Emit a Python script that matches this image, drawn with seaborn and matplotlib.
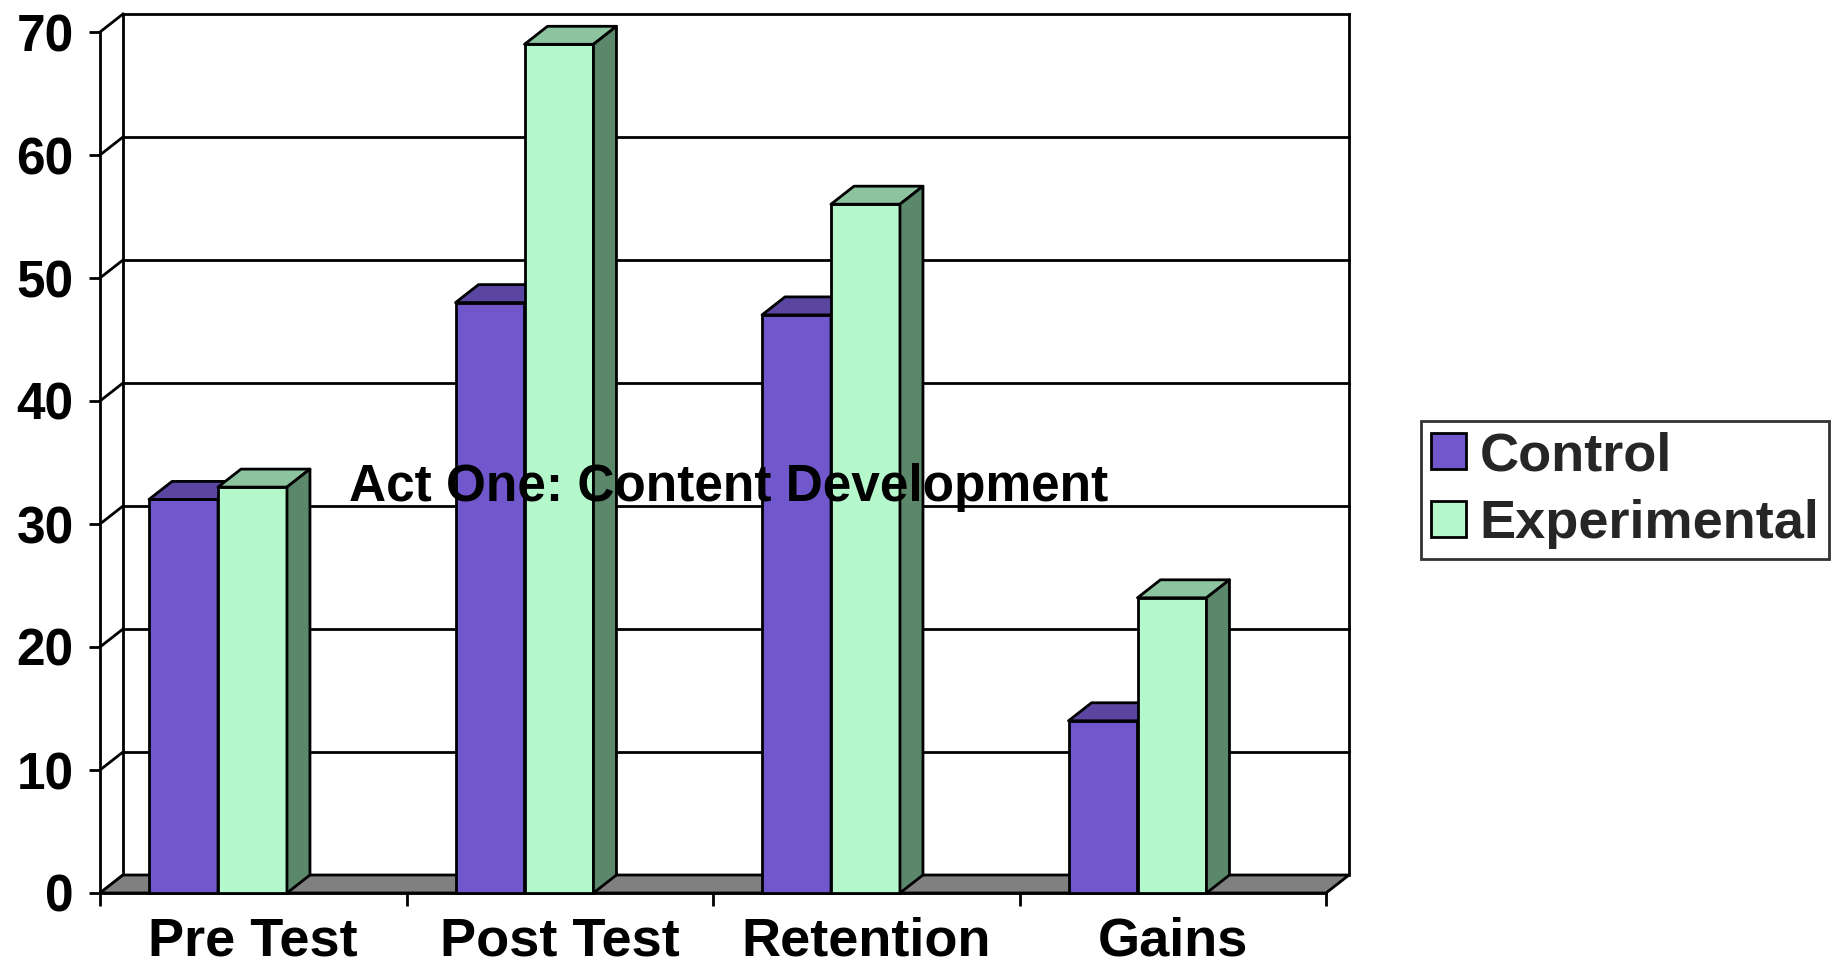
import numpy as np
import pandas as pd
import matplotlib
matplotlib.use("Agg")
import matplotlib.pyplot as plt
from matplotlib.patches import Polygon, Patch
import seaborn as sns

# ---- data -------------------------------------------------------------
categories = ["Pre Test", "Post Test", "Retention", "Gains"]
groups = ["Control", "Experimental"]
control = [32, 48, 47, 14]
experimental = [33, 69, 56, 24]
y_ticks = [0, 10, 20, 30, 40, 50, 60, 70]
title_text = "Act One: Content Development"

# ---- styling ----------------------------------------------------------
front_colors = {"Control": "#7157CC", "Experimental": "#B5F8CC"}
top_colors = {"Control": "#5A46A0", "Experimental": "#8DC4A0"}
side_colors = {"Control": "#4A3A8A", "Experimental": "#5B876A"}
floor_color = "#808080"
LW = 2.0
FS = 37
FS_X = 39
FS_LEG = 39

df = pd.DataFrame({
    "Test": categories * 2,
    "Group": [groups[0]] * len(categories) + [groups[1]] * len(categories),
    "Score": control + experimental,
})

sns.set_theme(style="white")
plt.rcParams["font.family"] = ["Liberation Sans", "DejaVu Sans"]
plt.rcParams["font.weight"] = "bold"

W, H = 1848, 967
fig = plt.figure(figsize=(W / 100, H / 100), dpi=100)
fig.patch.set_facecolor("white")
# axes = front plane of the 3-D box
ax = fig.add_axes([100 / W, 74 / H, 1226 / W, 861 / H])
ax.set_facecolor("none")

sns.barplot(data=df, x="Test", y="Score", hue="Group", order=categories,
            hue_order=groups, palette=front_colors, width=0.45, saturation=1,
            edgecolor="black", linewidth=LW, legend=False, ax=ax)

ax.set_xlim(-0.5, len(categories) - 0.5)
ax.set_ylim(y_ticks[0], y_ticks[-1])

# depth offset of the box in pixels converted to data units
depth_px = np.array([23.0, 18.0])
dx, dy = ax.transData.inverted().transform(ax.transData.transform((0, 0)) + depth_px)

x_lo, x_hi = -0.5, len(categories) - 0.5
y_top = y_ticks[-1]
line_kw = dict(color="black", lw=LW, clip_on=False, solid_capstyle="projecting")

# back wall: gridlines, side edges and the slanted left-wall connectors
for v in y_ticks[1:]:
    ax.plot([x_lo + dx, x_hi + dx], [v + dy, v + dy], zorder=1, **line_kw)
for v in y_ticks:
    ax.plot([x_lo, x_lo + dx], [v, v + dy], zorder=1, **line_kw)
ax.plot([x_lo + dx, x_lo + dx], [dy, y_top + dy], zorder=1, **line_kw)
ax.plot([x_hi + dx, x_hi + dx], [dy, y_top + dy], zorder=1, **line_kw)

# floor
floor = Polygon([(x_lo, 0), (x_hi, 0), (x_hi + dx, dy), (x_lo + dx, dy)],
                closed=True, facecolor=floor_color, edgecolor="black",
                lw=LW, zorder=3, clip_on=False, joinstyle="miter")
ax.add_patch(floor)

# shift bar groups and extrude them into 3-D boxes
group_shift = -0.115
for g_idx, (grp, cont) in enumerate(zip(groups, ax.containers)):
    for c_idx, bar in enumerate(cont.patches):
        bar.set_x(bar.get_x() + group_shift)
        x0 = bar.get_x()
        x1 = x0 + bar.get_width()
        h = bar.get_height()
        z = 10 + c_idx * 10 + g_idx * 3
        bar.set_zorder(z)
        bar.set_clip_on(False)
        top = Polygon([(x0, h), (x1, h), (x1 + dx, h + dy), (x0 + dx, h + dy)],
                      closed=True, facecolor=top_colors[grp], edgecolor="black",
                      lw=LW, zorder=z + 1, clip_on=False, joinstyle="round")
        side = Polygon([(x1, 0), (x1 + dx, dy), (x1 + dx, h + dy), (x1, h)],
                       closed=True, facecolor=side_colors[grp], edgecolor="black",
                       lw=LW, zorder=z + 2, clip_on=False, joinstyle="round")
        ax.add_patch(top)
        ax.add_patch(side)

# front axes
for s in ["top", "right"]:
    ax.spines[s].set_visible(False)
for s in ["left", "bottom"]:
    ax.spines[s].set_visible(True)
    ax.spines[s].set_color("black")
    ax.spines[s].set_linewidth(LW)
    ax.spines[s].set_zorder(5)

ax.set_yticks(y_ticks)
ax.set_yticklabels([str(v) for v in y_ticks])
ax.set_xticks(range(len(categories)))
ax.set_xticklabels(categories)
ax.set_xticks(np.arange(-0.5, len(categories), 1.0), minor=True)
ax.tick_params(axis="y", which="major", left=True, direction="out", length=8,
               width=LW, color="black", labelsize=FS, pad=11)
ax.tick_params(axis="x", which="major", bottom=True, length=0, labelsize=FS_X, pad=17)
ax.tick_params(axis="x", which="minor", bottom=True, direction="out", length=9.5,
               width=LW, color="black")
for lab in ax.get_xticklabels() + ax.get_yticklabels():
    lab.set_fontweight("bold")
    lab.set_color("black")
ax.set_xlabel("")
ax.set_ylabel("")
ax.grid(False)

# legend
handles = [Patch(facecolor=front_colors[g], edgecolor="black", lw=LW) for g in groups]
leg = fig.legend(handles, groups, loc="center left",
                 bbox_to_anchor=(1421 / W, 1 - 490 / H), frameon=True,
                 fancybox=False, shadow=False,
                 prop={"weight": "bold", "size": FS_LEG},
                 handlelength=0.65, handleheight=0.65, handletextpad=0.25,
                 borderpad=0.18, labelspacing=0.33, borderaxespad=0)
leg.get_frame().set_edgecolor("black")
leg.get_frame().set_linewidth(LW)

# chart caption drawn over the bars
fig.text(349 / W, 1 - 487 / H, title_text, fontsize=FS, fontweight="bold",
         color="black", ha="left", va="center", zorder=50)

fig.savefig("out.png", dpi=100, facecolor="white")
